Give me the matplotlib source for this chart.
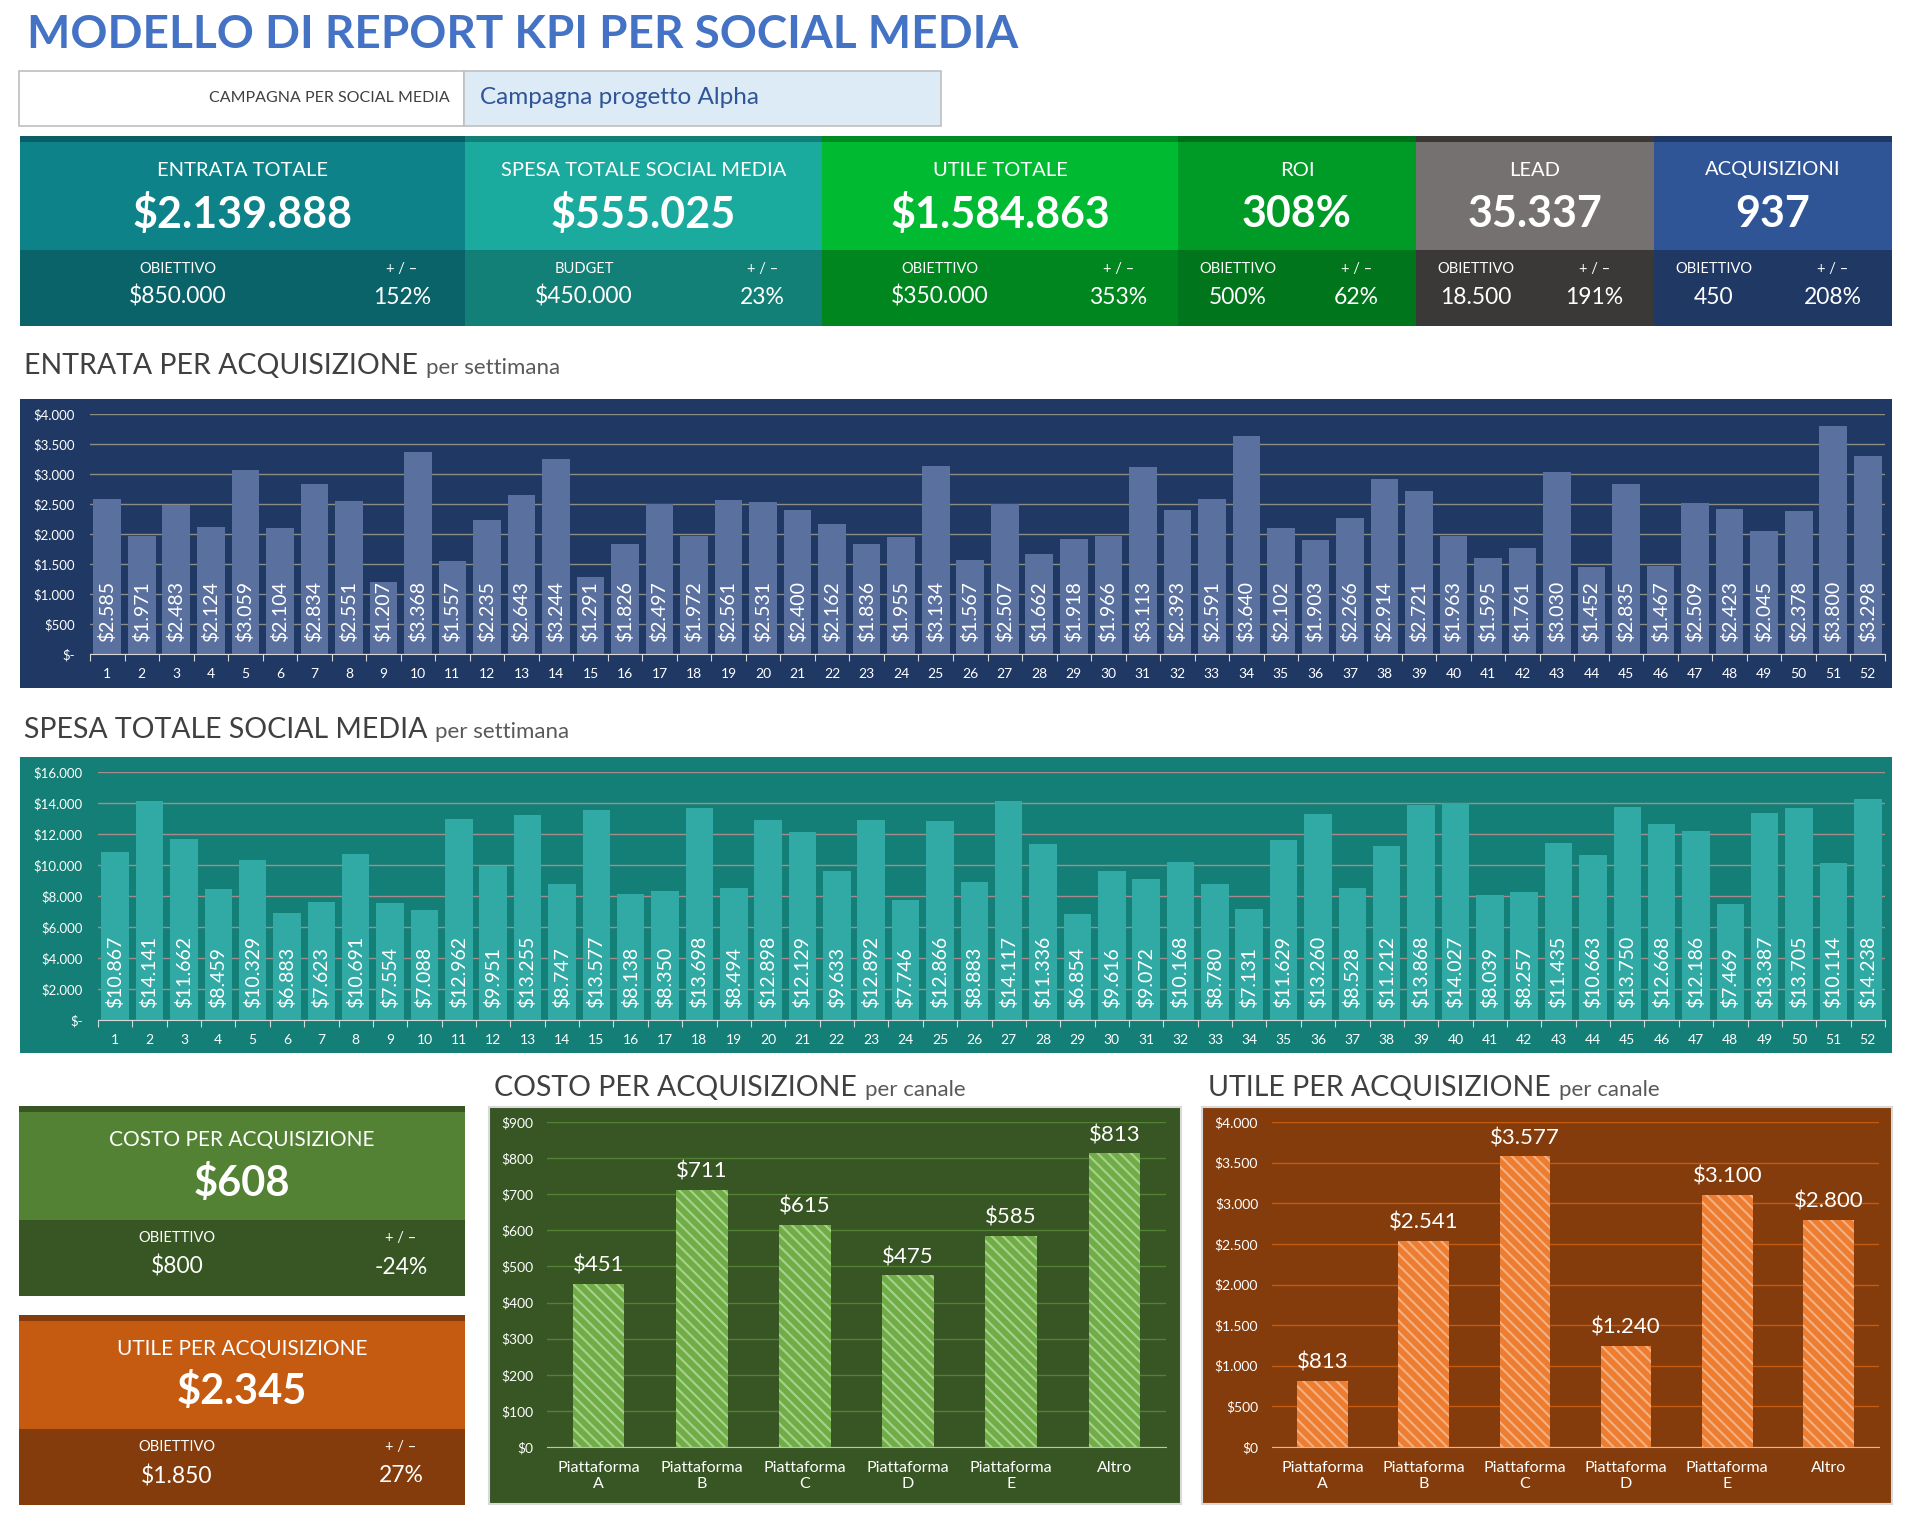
import matplotlib
matplotlib.use('Agg')
import matplotlib.pyplot as plt
from matplotlib.patches import Rectangle
from matplotlib.ticker import FuncFormatter
import numpy as np

plt.rcParams['font.family'] = ['Lato', 'DejaVu Sans']
plt.rcParams['hatch.linewidth'] = 1.5

W, H = 1907, 1529

# ---- data ----
weeks = list(range(1, 53))
entrata = [2585, 1971, 2483, 2124, 3059, 2104, 2834, 2551, 1207, 3368, 1557, 2235, 2643,
           3244, 1291, 1826, 2497, 1972, 2561, 2531, 2400, 2162, 1836, 1955, 3134, 1567,
           2507, 1662, 1918, 1966, 3113, 2393, 2591, 3640, 2102, 1903, 2266, 2914, 2721,
           1963, 1595, 1761, 3030, 1452, 2835, 1467, 2509, 2423, 2045, 2378, 3800, 3298]
spesa = [10867, 14141, 11662, 8459, 10329, 6883, 7623, 10691, 7554, 7088, 12962, 9951, 13255,
         8747, 13577, 8138, 8350, 13698, 8494, 12898, 12129, 9633, 12892, 7746, 12866, 8883,
         14117, 11336, 6854, 9616, 9072, 10168, 8780, 7131, 11629, 13260, 8528, 11212, 13868,
         14027, 8039, 8257, 11435, 10663, 13750, 12668, 12186, 7469, 13387, 13705, 10114, 14238]

canali = ['Piattaforma\nA', 'Piattaforma\nB', 'Piattaforma\nC', 'Piattaforma\nD',
          'Piattaforma\nE', 'Altro']
costo_canale = [451, 711, 615, 475, 585, 813]
utile_canale = [813, 2541, 3577, 1240, 3100, 2800]

kpi_titles = ['ENTRATA TOTALE', 'SPESA TOTALE SOCIAL MEDIA', 'UTILE TOTALE', 'ROI', 'LEAD', 'ACQUISIZIONI']
kpi_values = ['$2.139.888', '$555.025', '$1.584.863', '308%', '35.337', '937']
kpi_sub = ['OBIETTIVO', 'BUDGET', 'OBIETTIVO', 'OBIETTIVO', 'OBIETTIVO', 'OBIETTIVO']
kpi_targets = ['$850.000', '$450.000', '$350.000', '500%', '18.500', '450']
kpi_delta = ['152%', '23%', '353%', '62%', '191%', '208%']

card_titles = ['COSTO PER ACQUISIZIONE', 'UTILE PER ACQUISIZIONE']
card_values = ['$608', '$2.345']
card_targets = ['$800', '$1.850']
card_delta = ['-24%', '27%']


def money(v):
    return '$' + f'{int(round(v)):,}'.replace(',', '.')


fig = plt.figure(figsize=(W / 100, H / 100), dpi=100)
fig.patch.set_facecolor('white')


def rect(x0, y0, x1, y1, color, ec='none', lw=0):
    fig.add_artist(Rectangle((x0 / W, 1 - y1 / H), (x1 - x0) / W, (y1 - y0) / H,
                             transform=fig.transFigure, facecolor=color, edgecolor=ec,
                             linewidth=lw, zorder=-5))


def txt(x, y, s, **kw):
    kw.setdefault('ha', 'center')
    kw.setdefault('va', 'center')
    return fig.text(x / W, 1 - y / H, s, **kw)


def axbox(x0, y0, x1, y1):
    return fig.add_axes([x0 / W, 1 - y1 / H, (x1 - x0) / W, (y1 - y0) / H])


renderer = fig.canvas.get_renderer()


def header(x, y, main, sub):
    t = txt(x, y, main, ha='left', va='baseline', fontsize=20.5, color='#404040')
    bb = t.get_window_extent(renderer=renderer)
    fig.text((bb.x1 + 8) / W, 1 - y / H, sub, ha='left', va='baseline', fontsize=16, color='#595959')


# ---- title & campaign ----
txt(27, 35, 'MODELLO DI REPORT KPI PER SOCIAL MEDIA', ha='left', fontsize=33,
    fontweight='bold', color='#4472C4')
rect(19, 71, 464, 126, 'white', ec='#BFBFBF', lw=1.2)
rect(464, 71, 941, 126, '#DDEBF7', ec='#BFBFBF', lw=1.2)
txt(450, 98, 'CAMPAGNA PER SOCIAL MEDIA', ha='right', fontsize=11.5, color='#404040')
txt(480, 98, 'Campagna progetto Alpha', ha='left', fontsize=17.5, color='#2F5597')

# ---- KPI strip ----
cols = [19.5, 465, 822, 1178, 1416, 1654, 1892]
stripe_c = ['#0A5F66', '#128075', '#008A22', '#006F19', '#3B3838', '#203864']
top_c = ['#0D8289', '#1BAA9E', '#00BA31', '#009A27', '#767171', '#2F5597']
bot_c = ['#0B636A', '#138077', '#00861F', '#00751C', '#3B3838', '#203864']
left_f = [0.355, 0.333, 0.331, 0.25, 0.25, 0.25]
right_f = [0.858, 0.833, 0.833, 0.75, 0.75, 0.75]
for i in range(6):
    x0, x1 = cols[i], cols[i + 1]
    w = x1 - x0
    rect(x0, 136, x1, 142, stripe_c[i])
    rect(x0, 142, x1, 250, top_c[i])
    rect(x0, 250, x1, 326, bot_c[i])
    cx = (x0 + x1) / 2
    txt(cx, 170, kpi_titles[i], fontsize=14.5, color='white')
    txt(cx, 214, kpi_values[i], fontsize=31, fontweight='bold', color='white')
    lx, rx = x0 + left_f[i] * w, x0 + right_f[i] * w
    txt(lx, 269, kpi_sub[i], fontsize=10.5, color='white')
    txt(rx, 269, '+ / \u2013', fontsize=10.5, color='white')
    txt(lx, 297, kpi_targets[i], fontsize=16.5, color='white')
    txt(rx, 297, kpi_delta[i], fontsize=16.5, color='white')


# ---- weekly charts ----
def weekly(panel, abox, values, ymax, step, bg, bar_c, grid_c):
    rect(*panel, bg)
    ax = axbox(*abox)
    ax.set_facecolor('none')
    x = np.arange(1, 53)
    ax.bar(x, values, width=0.8, color=bar_c, zorder=2)
    ax.set_xlim(0.5, 52.5)
    ax.set_ylim(0, ymax)
    ax.set_yticks(np.arange(0, ymax + 1, step))
    ax.yaxis.set_major_formatter(FuncFormatter(lambda v, p: '$-' if v == 0 else money(v)))
    ax.grid(axis='y', color=grid_c, lw=1)
    ax.set_axisbelow(True)
    ax.set_xticks(np.arange(0.5, 53, 1))
    ax.set_xticklabels([])
    ax.set_xticks(x, minor=True)
    ax.set_xticklabels([str(w) for w in weeks], minor=True)
    ax.tick_params(axis='x', which='major', length=5, color='#D9D9D9', direction='out')
    ax.tick_params(axis='x', which='minor', length=0, pad=10, labelcolor='white', labelsize=10)
    ax.tick_params(axis='y', length=0, pad=11, labelcolor='white', labelsize=9.5)
    for s in ['top', 'right', 'left']:
        ax.spines[s].set_visible(False)
    ax.spines['bottom'].set_color('#D9D9D9')
    for xi, v in zip(x, values):
        ax.annotate(money(v), xy=(xi, 0), xytext=(0, 12), textcoords='offset pixels',
                    rotation=90, ha='center', va='bottom', color='white', fontsize=14, zorder=3)


header(24, 374, 'ENTRATA PER ACQUISIZIONE', 'per settimana')
weekly((19.5, 399, 1892, 688), (90, 414, 1885, 654), entrata, 4000, 500,
       '#203864', '#5A71A0', '#8C8C80')

header(24, 738, 'SPESA TOTALE SOCIAL MEDIA', 'per settimana')
weekly((19.5, 757, 1892, 1053), (98, 772, 1885, 1020), spesa, 16000, 2000,
       '#137F77', '#31AAA5', '#A88A8A')

# ---- left cards ----
cards = [((1106, 1112, 1220, 1296), '#375623', '#548235', '#375623'),
         ((1315, 1321, 1429, 1505), '#843C0C', '#C55A11', '#843C0C')]
for i, ((y0, y1, y2, y3), sc, tc, bc) in enumerate(cards):
    rect(19, y0, 465, y1, sc)
    rect(19, y1, 465, y2, tc)
    rect(19, y2, 465, y3, bc)
    txt(242, y1 + 28, card_titles[i], fontsize=15, color='white')
    txt(242, y1 + 71, card_values[i], fontsize=30, fontweight='bold', color='white')
    txt(177, y2 + 18, 'OBIETTIVO', fontsize=10.5, color='white')
    txt(401, y2 + 18, '+ / \u2013', fontsize=10.5, color='white')
    txt(177, y2 + 47, card_targets[i], fontsize=16.5, color='white')
    txt(401, y2 + 47, card_delta[i], fontsize=16.5, color='white')


# ---- channel charts ----
def channel(panel, abox, values, ymax, step, bg, face, hatch_c, grid_c):
    rect(*panel, bg, ec='#D9D9D9', lw=1.5)
    ax = axbox(*abox)
    ax.set_facecolor('none')
    x = np.arange(len(values))
    bars = ax.bar(x, values, width=0.5, facecolor=face, edgecolor=hatch_c,
                  hatch='\\\\\\', linewidth=0, zorder=2)
    ax.bar_label(bars, labels=[money(v) for v in values], padding=6, color='white', fontsize=16)
    ax.set_xlim(-0.5, len(values) - 0.5)
    ax.set_ylim(0, ymax)
    ax.set_yticks(np.arange(0, ymax + 1, step))
    ax.yaxis.set_major_formatter(FuncFormatter(lambda v, p: money(v)))
    ax.grid(axis='y', color=grid_c, lw=1)
    ax.set_axisbelow(True)
    ax.set_xticks(x)
    ax.set_xticklabels(canali, linespacing=1.15)
    ax.tick_params(axis='x', length=0, pad=10, labelcolor='white', labelsize=11.5)
    ax.tick_params(axis='y', length=0, pad=10, labelcolor='white', labelsize=10)
    for s in ['top', 'right', 'left']:
        ax.spines[s].set_visible(False)
    ax.spines['bottom'].set_color('#BFBFBF')


header(494, 1096, 'COSTO PER ACQUISIZIONE', 'per canale')
channel((489, 1107, 1181, 1504), (547, 1122, 1166, 1447), costo_canale, 900, 100,
        '#375623', '#70AD47', '#A9D18E', '#548235')

header(1208, 1096, 'UTILE PER ACQUISIZIONE', 'per canale')
channel((1202, 1107, 1892, 1504), (1272, 1122, 1879, 1447), utile_canale, 4000, 500,
        '#843C0C', '#ED7D31', '#F4B183', '#C55A11')

fig.savefig('out.png', dpi=100, facecolor='white')
